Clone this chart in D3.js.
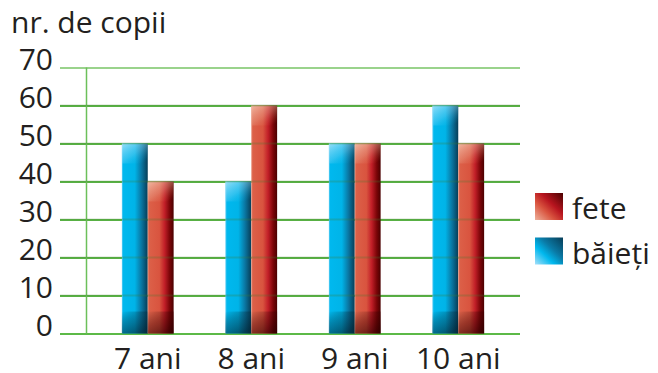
<!DOCTYPE html>
<html>
<head>
<meta charset="utf-8">
<script src="https://cdn.jsdelivr.net/npm/d3@7"></script>
<style>
  body { margin: 0; background: #fff; }
  text { font-family: "Open Sans", "Noto Sans", sans-serif; fill: #231f20; }
</style>
</head>
<body>
<script>
var width = 658, height = 373;

var categories = ["7 ani", "8 ani", "9 ani", "10 ani"];
var series = ["băieți", "fete"];
var baieti = [50, 40, 50, 60];
var fete = [40, 60, 50, 50];
var yTicks = [0, 10, 20, 30, 40, 50, 60, 70];
var yTitle = "nr. de copii";

var data = categories.map(function(c, i) {
    return {cat: c, values: [{key: "băieți", v: baieti[i]}, {key: "fete", v: fete[i]}]};
});

var svg = d3.select("body").append("svg")
    .attr("width", width)
    .attr("height", height);

var defs = svg.append("defs");

function lin(id, x1, y1, x2, y2, stops) {
    var g = defs.append("linearGradient").attr("id", id)
        .attr("x1", x1).attr("y1", y1).attr("x2", x2).attr("y2", y2);
    stops.forEach(function(s) {
        g.append("stop").attr("offset", s[0]).attr("stop-color", s[1])
            .attr("stop-opacity", s[2] == null ? 1 : s[2]);
    });
}

// body of the bars, light on the left, dark on the right
lin("blueBody", 0, 0, 1, 0, [[0, "#62cdf3"], [0.06, "#00b8ee"], [0.5, "#00b4e8"], [0.75, "#0a78a4"], [1, "#073d57"]]);
lin("redBody", 0, 0, 1, 0, [[0, "#e9937c"], [0.06, "#dc6048"], [0.45, "#d9543f"], [0.65, "#c21f28"], [0.85, "#7a0508"], [1, "#4a0000"]]);
// top highlight and bottom shadow
lin("blueTop", 0, 0, 0.8, 1, [[0, "#c8ecfc", 0.75], [0.55, "#8ad8f7", 0.35], [1, "#00b4e8", 0]]);
lin("redTop", 0, 0, 0.8, 1, [[0, "#f6cdb8", 0.8], [0.55, "#eba58d", 0.4], [1, "#dc6048", 0]]);
lin("shadeBottom", 0, 0, 0.6, 1, [[0, "#000", 0], [0.5, "#032a3c", 0.4], [1, "#02202e", 0.65]]);
lin("shadeBottomRed", 0, 0, 0.6, 1, [[0, "#000", 0], [0.5, "#3a0000", 0.4], [1, "#2a0000", 0.65]]);
// legend swatches
lin("blueSw", 0, 1, 1, 0, [[0, "#a6e0fa"], [0.35, "#00b8ee"], [0.6, "#0a7aa6"], [1, "#073d57"]]);
lin("redSw", 0, 1, 1, 0, [[0, "#eeb29c"], [0.35, "#d9543f"], [0.6, "#b8151f"], [1, "#4a0000"]]);

var y = d3.scaleLinear().domain([0, 70]).range([333.5, 67.5]);

var x0 = d3.scaleBand().domain(categories).range([96, 510])
    .paddingInner(0.5).paddingOuter(0.25);
var x1 = d3.scaleBand().domain(series).range([0, x0.bandwidth()]);

// grid lines and tick labels
var gridLeft = 60, gridRight = 520;
var yAxis = svg.append("g")
    .attr("transform", "translate(" + gridLeft + ",0)")
    .call(d3.axisLeft(y).tickValues(yTicks).tickSize(-(gridRight - gridLeft)).tickPadding(7));
yAxis.select(".domain").remove();
yAxis.selectAll(".tick line")
    .attr("stroke", function(d) { return d === 70 ? "#9ad38c" : "#5cb947"; })
    .attr("stroke-width", 2.2);
yAxis.selectAll(".tick text")
    .attr("font-size", 30)
    .attr("font-family", null)
    .attr("fill", "#231f20")
    .attr("dy", 2);

// vertical axis line
svg.append("line")
    .attr("x1", 86.5).attr("x2", 86.5)
    .attr("y1", y(70)).attr("y2", y(0))
    .attr("stroke", "#6cc05a").attr("stroke-width", 1.5);

// bars
var groups = svg.append("g").selectAll("g")
    .data(data)
    .enter().append("g")
    .attr("transform", function(d) { return "translate(" + x0(d.cat) + ",0)"; });

var bars = groups.selectAll("g")
    .data(function(d) { return d.values; })
    .enter().append("g");

bars.append("rect")
    .attr("x", function(d) { return x1(d.key); })
    .attr("y", function(d) { return y(d.v); })
    .attr("width", x1.bandwidth())
    .attr("height", function(d) { return y(0) - y(d.v); })
    .attr("fill", function(d) { return d.key === "fete" ? "url(#redBody)" : "url(#blueBody)"; });

bars.append("rect")
    .attr("x", function(d) { return x1(d.key); })
    .attr("y", function(d) { return y(d.v); })
    .attr("width", x1.bandwidth())
    .attr("height", 20)
    .attr("fill", function(d) { return d.key === "fete" ? "url(#redTop)" : "url(#blueTop)"; });

bars.append("rect")
    .attr("x", function(d) { return x1(d.key); })
    .attr("y", y(0) - 22)
    .attr("width", x1.bandwidth())
    .attr("height", 22)
    .attr("fill", function(d) { return d.key === "fete" ? "url(#shadeBottomRed)" : "url(#shadeBottom)"; });

// faint grid lines showing through the bars
svg.append("g").selectAll("line")
    .data(yTicks.filter(function(t) { return t > 0 && t < 70; }))
    .enter().append("line")
    .attr("x1", gridLeft).attr("x2", gridRight)
    .attr("y1", function(d) { return y(d); })
    .attr("y2", function(d) { return y(d); })
    .attr("stroke", "#3f7a30").attr("stroke-opacity", 0.25).attr("stroke-width", 2.2);

// category labels
var xAxis = svg.append("g")
    .attr("transform", "translate(0," + y(0) + ")")
    .call(d3.axisBottom(x0).tickSize(0).tickPadding(0));
xAxis.select(".domain").remove();
xAxis.selectAll(".tick text")
    .attr("font-size", 30)
    .attr("font-family", null)
    .attr("fill", "#231f20")
    .attr("y", 35)
    .attr("dy", 0);

// title
svg.append("text")
    .attr("x", 11).attr("y", 33)
    .attr("font-size", 30)
    .text(yTitle);

// legend
var legendItems = [{key: "fete", fill: "url(#redSw)"}, {key: "băieți", fill: "url(#blueSw)"}];
var legend = svg.append("g").selectAll("g")
    .data(legendItems)
    .enter().append("g")
    .attr("transform", function(d, i) { return "translate(535," + (193 + i * 44.5) + ")"; });
legend.append("rect")
    .attr("width", 28).attr("height", 27)
    .attr("fill", function(d) { return d.fill; });
legend.append("text")
    .attr("x", 37).attr("y", 26)
    .attr("font-size", 30)
    .text(function(d) { return d.key; });
</script>
</body>
</html>
